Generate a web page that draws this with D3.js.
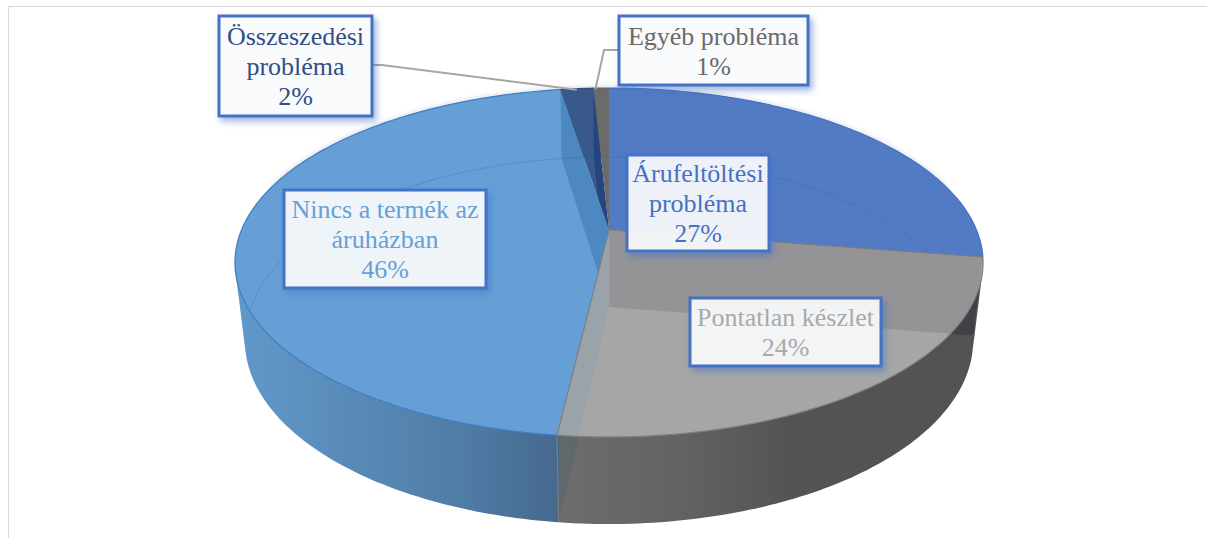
<!DOCTYPE html>
<html>
<head>
<meta charset="utf-8">
<script src="https://cdn.jsdelivr.net/npm/d3@7"></script>
<style>
    html, body { margin: 0; padding: 0; background: #fff; }
    svg { display: block; }
    text { font-family: "Liberation Serif", serif; font-size: 26px; text-anchor: middle; }
</style>
</head>
<body>
<div id="chart"></div>
<script>
;(function () {

    // slice order is clockwise from 12 o'clock
    var categories = ['Árufeltöltési probléma', 'Pontatlan készlet', 'Nincs a termék az áruházban', 'Összeszedési probléma', 'Egyéb probléma'];
    var values = [27.49, 24.35, 45.66, 1.7, 0.8];
    var labelLines = [
        ['Árufeltöltési', 'probléma', '27%'],
        ['Pontatlan készlet', '24%'],
        ['Nincs a termék az', 'áruházban', '46%'],
        ['Összeszedési', 'probléma', '2%'],
        ['Egyéb probléma', '1%']
    ];

    var width = 1207
        , height = 538;

    var sliceColors = ['#527bc3', '#a6a6a6', '#659fd5', '#39598a', '#6b6b6b'];
    var textColors = ['#4472c4', '#a9a9a9', '#65a0d6', '#2f4f85', '#6a6a6a'];
    var rimColors = ['#4472c4', '#808080', '#3f7fc4', '#2f4f85', '#666'];

    var labelBoxes = [
        { x: 627, y: 155, w: 142, h: 96 },
        { x: 690, y: 298, w: 191, h: 68 },
        { x: 284, y: 190, w: 202, h: 98 },
        { x: 219, y: 16, w: 153, h: 100 },
        { x: 619, y: 16, w: 189, h: 69 }
    ];

    // the disc is a circle seen in perspective, k moves the hub off the ellipse centre
    var topDisc = { cx: 609, hubY: 230, r: 367.5, b: 168.4, k: -0.1862 };
    var floorDisc = { cx: 609, hubY: 307, r: 358, b: 177.4, k: -0.1826 };

    var svg = d3.select('#chart').append('svg')
        .attr('width', width)
        .attr('height', height);

    var defs = svg.append('defs');

    var pie = d3.pie().sort(null).value(function (d) { return d; });
    var slices = pie(values);

    function project(disc, angle) {
        var u = Math.sin(angle)
            , v = -Math.cos(angle)
            , w = 1 + disc.k * v;
        return [disc.cx + disc.r * u / w, disc.hubY + disc.b * v / w];
    }

    function rim(disc, a0, a1) {
        var n = Math.max(2, Math.ceil(Math.abs(a1 - a0) * 60));
        return d3.range(n + 1).map(function (i) {
            return project(disc, a0 + (a1 - a0) * i / n);
        });
    }

    var line = d3.line();

    function hub(disc) {
        return [disc.cx, disc.hubY];
    }

    function topSlicePath(s) {
        return line([hub(topDisc)].concat(rim(topDisc, s.startAngle, s.endAngle))) + 'Z';
    }

    // hull, so the silhouette runs straight between the two rims at the sides
    function wallPath(s) {
        var pts = rim(topDisc, s.startAngle, s.endAngle).concat(rim(floorDisc, s.startAngle, s.endAngle));
        return line(d3.polygonHull(pts)) + 'Z';
    }

    function radialPath(angle) {
        return line([hub(topDisc), project(topDisc, angle), project(floorDisc, angle), hub(floorDisc)]) + 'Z';
    }

    function addGradient(id, x1, x2, stops) {
        var g = defs.append('linearGradient')
            .attr('id', id)
            .attr('gradientUnits', 'userSpaceOnUse')
            .attr('x1', x1).attr('x2', x2)
            .attr('y1', 0).attr('y2', 0);
        stops.forEach(function (st) {
            g.append('stop').attr('offset', st[0]).attr('stop-color', st[1]);
        });
        return 'url(#' + id + ')';
    }

    var blueWall = addGradient('blue-wall', 236, 558, [[0, '#6198ca'], [0.3, '#5a8dba'], [0.7, '#507ca6'], [1, '#46698d']]);
    var grayWall = addGradient('gray-wall', 560, 973, [[0, '#6d6d6d'], [0.3, '#626262'], [0.55, '#545454'], [1, '#525252']]);
    var wallFills = ['#3e5d98', grayWall, blueWall, '#2f4f85', '#555'];

    var shadow = defs.append('filter')
        .attr('id', 'box-shadow')
        .attr('x', '-10%').attr('y', '-10%')
        .attr('width', '125%').attr('height', '125%');
    shadow.append('feDropShadow')
        .attr('dx', 3).attr('dy', 4)
        .attr('stdDeviation', 3)
        .attr('flood-color', '#4472c4')
        .attr('flood-opacity', 0.55);

    defs.append('filter')
        .attr('id', 'soft')
        .append('feGaussianBlur')
        .attr('stdDeviation', 2);

    defs.append('clipPath').attr('id', 'clip-top')
        .append('path')
        .attr('d', line(rim(topDisc, 0, 2 * Math.PI)) + 'Z');

    slices.forEach(function (s, i) {
        defs.append('clipPath').attr('id', 'clip-slice-' + i)
            .append('path')
            .attr('d', topSlicePath(s));
    });

    // frame of the chart area
    svg.append('path')
        .attr('d', 'M8.5,538V6.5H1207')
        .attr('fill', 'none')
        .attr('stroke', '#d9d9d9');

    // soft shadow along the back rim
    svg.append('path')
        .attr('d', line(rim(topDisc, -1.3, 1.3)))
        .attr('fill', 'none')
        .attr('stroke', '#7f8fb0')
        .attr('stroke-width', 3)
        .attr('stroke-opacity', 0.35)
        .attr('filter', 'url(#soft)');

    // outer walls
    svg.append('g').selectAll('path')
        .data(slices)
        .enter().append('path')
        .attr('d', wallPath)
        .attr('fill', function (d, i) { return wallFills[i]; });

    // cut faces seen through the walls
    svg.append('path')
        .attr('d', radialPath(slices[0].endAngle))
        .attr('fill', '#1c1f28')
        .attr('opacity', 0.3);
    svg.append('path')
        .attr('d', radialPath(slices[1].endAngle))
        .attr('fill', '#46606e')
        .attr('opacity', 0.3);

    // top faces
    svg.append('g').selectAll('path')
        .data(slices)
        .enter().append('path')
        .attr('d', topSlicePath)
        .attr('fill', function (d, i) { return sliceColors[i]; });

    // cut faces seen through the top faces
    var inner = svg.append('g');
    inner.append('path')
        .attr('clip-path', 'url(#clip-top)')
        .attr('d', radialPath(slices[0].endAngle))
        .attr('fill', '#3a3d50')
        .attr('opacity', 0.17);
    inner.append('path')
        .attr('clip-path', 'url(#clip-top)')
        .attr('d', radialPath(slices[1].endAngle))
        .attr('fill', '#6e9bb8')
        .attr('opacity', 0.22);
    inner.append('g').attr('clip-path', 'url(#clip-slice-2)')
        .append('path')
        .attr('d', radialPath(slices[2].endAngle))
        .attr('fill', '#3d7ab5')
        .attr('opacity', 0.6);
    inner.append('g').attr('clip-path', 'url(#clip-slice-3)')
        .append('path')
        .attr('d', radialPath(slices[3].endAngle))
        .attr('fill', '#1c3f78')
        .attr('opacity', 0.7);

    // back of the floor edge, shows faintly through the top
    var backEdge = svg.append('g')
        .attr('fill', 'none')
        .attr('stroke', '#2f5f9f')
        .attr('stroke-opacity', 0.25);
    backEdge.append('path')
        .attr('clip-path', 'url(#clip-top)')
        .attr('d', line(rim(floorDisc, slices[1].endAngle + 1.32, 2 * Math.PI)));
    backEdge.append('path')
        .attr('clip-path', 'url(#clip-slice-0)')
        .attr('d', line(rim(floorDisc, 0, slices[0].endAngle)));

    // rim highlight
    svg.append('g').selectAll('path')
        .data(slices)
        .enter().append('path')
        .attr('d', function (d) { return line(rim(topDisc, d.startAngle, d.endAngle)); })
        .attr('fill', 'none')
        .attr('stroke', function (d, i) { return rimColors[i]; })
        .attr('stroke-width', 1.2);

    svg.append('path')
        .attr('d', line([hub(topDisc), project(topDisc, slices[1].endAngle), project(floorDisc, slices[1].endAngle)]))
        .attr('fill', 'none')
        .attr('stroke', '#7c7f80')
        .attr('stroke-width', 1.2);
    svg.append('path')
        .attr('d', line([hub(topDisc), project(topDisc, slices[0].endAngle)]))
        .attr('fill', 'none')
        .attr('stroke', '#7c7f80');

    // leader lines
    var leaders = svg.append('g')
        .attr('fill', 'none')
        .attr('stroke', '#a6a6a6')
        .attr('stroke-width', 2);
    var edge3 = project(topDisc, slices[3].startAngle / 2 + slices[3].endAngle / 2)
        , edge4 = project(topDisc, slices[4].startAngle);
    leaders.append('path').attr('d', line([
        [labelBoxes[3].x + labelBoxes[3].w, 65], [382, 65], [edge3[0], edge3[1] + 1]
    ]));
    leaders.append('path').attr('d', line([
        [labelBoxes[4].x, 50], [604, 50], [edge4[0] + 2, edge4[1] + 1]
    ]));

    // data labels
    var labels = svg.append('g').selectAll('g')
        .data(categories)
        .enter().append('g')
        .attr('class', 'label')
        .attr('data-name', function (d) { return d; });

    labels.append('rect')
        .attr('x', function (d, i) { return labelBoxes[i].x; })
        .attr('y', function (d, i) { return labelBoxes[i].y; })
        .attr('width', function (d, i) { return labelBoxes[i].w; })
        .attr('height', function (d, i) { return labelBoxes[i].h; })
        .attr('fill', '#fff')
        .attr('fill-opacity', 0.88)
        .attr('stroke', '#4472c4')
        .attr('stroke-width', 3)
        .attr('filter', 'url(#box-shadow)');

    labels.each(function (d, i) {
        var box = labelBoxes[i]
            , lines = labelLines[i]
            , step = 30
            , firstY = box.y + box.h / 2 - (lines.length - 1) * step / 2 + 9;
        d3.select(this).selectAll('text')
            .data(lines)
            .enter().append('text')
            .attr('x', box.x + box.w / 2)
            .attr('y', function (t, j) { return firstY + j * step; })
            .attr('fill', textColors[i])
            .text(function (t) { return t; });
    });

}());
</script>
</body>
</html>
